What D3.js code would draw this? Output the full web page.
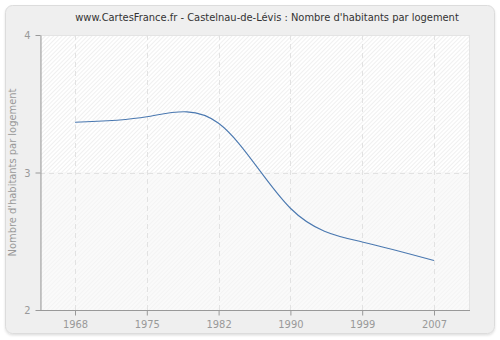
<!DOCTYPE html>
<html><head><meta charset="utf-8">
<script src="https://cdn.jsdelivr.net/npm/d3@7"></script>
<style>body{margin:0;background:#fff}svg{display:block}text{font-family:"DejaVu Sans Condensed","DejaVu Sans",sans-serif}</style>
</head><body>
<svg id="c" width="500" height="340"></svg>
<script>
const years = ["1968","1975","1982","1990","1999","2007"];
const values = [3.365, 3.405, 3.358, 2.74, 2.495, 2.36];
const yTicks = [2, 3, 4];
const title = "www.CartesFrance.fr - Castelnau-de-Lévis : Nombre d'habitants par logement";
const yLabel = "Nombre d'habitants par logement";

const svg = d3.select("#c");
const m = {l: 40, r: 470, t: 35, b: 310};
const FONT = "'DejaVu Sans Condensed','DejaVu Sans',sans-serif";

const defs = svg.append("defs");
const f = defs.append("filter").attr("id","sh").attr("x","-5%").attr("y","-5%").attr("width","110%").attr("height","115%");
f.append("feDropShadow").attr("dx",0).attr("dy",1.5).attr("stdDeviation",1.2).attr("flood-color","#000").attr("flood-opacity",0.12);

function hatch(id, bg, line) {
  const p = defs.append("pattern").attr("id", id).attr("patternUnits","userSpaceOnUse")
    .attr("width", 3).attr("height", 3).attr("patternTransform","rotate(45)");
  p.append("rect").attr("width",3).attr("height",3).attr("fill",bg);
  p.append("line").attr("x1",0.5).attr("y1",0).attr("x2",0.5).attr("y2",3).attr("stroke",line).attr("stroke-width",1);
}
hatch("hTop", "#ffffff", "#f0f0f0");
hatch("hBot", "#fafafa", "#f4f4f4");

svg.append("rect").attr("x",5.5).attr("y",5.5).attr("width",489).attr("height",328).attr("rx",7)
  .attr("fill","#efefef").attr("stroke","#dcdcdc").attr("filter","url(#sh)");

const x = d3.scalePoint().domain(years).range([75, 434]);
const y = d3.scaleLinear().domain([2, 4]).range([m.b, m.t]);

svg.append("rect").attr("x",m.l).attr("y",m.t).attr("width",m.r-m.l).attr("height",y(3)-m.t).attr("fill","url(#hTop)");
svg.append("rect").attr("x",m.l).attr("y",y(3)).attr("width",m.r-m.l).attr("height",m.b-y(3)).attr("fill","url(#hBot)");
svg.append("rect").attr("x",m.l+0.5).attr("y",m.t+0.5).attr("width",m.r-m.l-1).attr("height",m.b-m.t).attr("fill","none").attr("stroke","#e4e4e4");

const grid = svg.append("g").attr("stroke","#e2e2e2").attr("stroke-dasharray","5,4").attr("stroke-width",1);
years.forEach(v => grid.append("line").attr("x1",Math.round(x(v))+0.5).attr("x2",Math.round(x(v))+0.5).attr("y1",m.t).attr("y2",m.b));
yTicks.filter(t => t > 2 && t < 4).forEach(t => grid.append("line").attr("x1",m.l).attr("x2",m.r).attr("y1",Math.round(y(t))+0.5).attr("y2",Math.round(y(t))+0.5));

const xAxis = svg.append("g").attr("transform",`translate(0,${m.b+0.5})`)
  .call(d3.axisBottom(x).tickSize(5).tickPadding(5).tickSizeOuter(0));
const yAxis = svg.append("g").attr("transform",`translate(${m.l+0.5},0)`)
  .call(d3.axisLeft(y).tickValues(yTicks).tickFormat(d3.format("d")).tickSize(5).tickPadding(5).tickSizeOuter(0));
[xAxis, yAxis].forEach(a => {
  a.select(".domain").attr("stroke","#999");
  a.selectAll(".tick line").attr("stroke","#999");
  a.selectAll(".tick text").attr("fill","#999").style("font-size","11px").style("font-family",FONT);
});
xAxis.select(".domain").attr("d", `M${m.l},0H${m.r}`);

svg.append("path").datum(values)
  .attr("d", d3.line().x((d,i) => x(years[i])).y(d => y(d)).curve(d3.curveNatural))
  .attr("fill","none").attr("stroke","#4a78b0").attr("stroke-width",1.1);

svg.append("text").attr("x",267).attr("y",21).attr("text-anchor","middle").attr("fill","#333")
  .style("font-size","11px").text(title);
svg.append("text").attr("transform",`translate(16,${y(3)}) rotate(-90)`).attr("text-anchor","middle")
  .attr("fill","#999").style("font-size","11px").text(yLabel);
</script>
</body></html>
